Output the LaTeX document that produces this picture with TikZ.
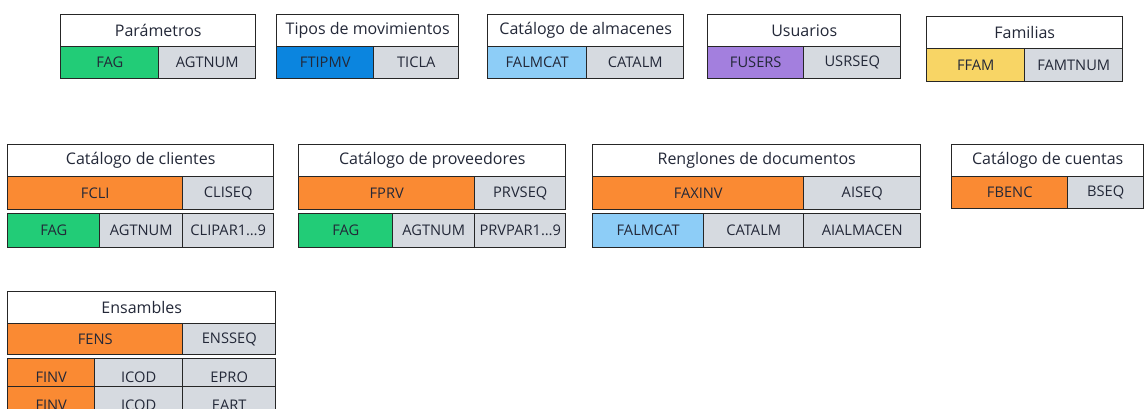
\documentclass[tikz,border=0pt]{standalone}
\usepackage{fontspec}
\setmainfont{Open Sans}

\definecolor{verde}{HTML}{22CC77}
\definecolor{azul}{HTML}{0B85DF}
\definecolor{celeste}{HTML}{8DCDF7}
\definecolor{morado}{HTML}{A37FDE}
\definecolor{amarillo}{HTML}{F8D565}
\definecolor{naranja}{HTML}{FA8A33}
\definecolor{gris}{HTML}{D6DAE0}
\definecolor{linea}{HTML}{262626}
\definecolor{texto}{HTML}{232838}

\begin{document}
\begin{tikzpicture}[
    x=0.75pt, y=-0.75pt,
    caja/.style 2 args={minimum width=#1*0.75pt, minimum height=#2*0.75pt},
    titulo/.style={rectangle, draw=linea, line width=1.1pt, fill=white, inner sep=0pt, anchor=north west, text=texto, font=\fontsize{12}{14}\selectfont},
    campo/.style={rectangle, draw=linea, line width=1.1pt, fill=gris, inner sep=0pt, anchor=north west, text=texto, font=\fontsize{11}{13}\selectfont},
    bajo/.style={text height=14pt, text depth=0pt}
]
\useasboundingbox (0,0) rectangle (1146,408);
\clip (0,0) rectangle (1146,408);

% Parámetros
\node[titulo, caja={195}{32}] (par) at (60,14) {Parámetros};
\node[campo, caja={98}{32}, fill=verde] (parfag) at (60,46) {FAG};
\node[campo, caja={97}{32}] (parnum) at (158,46) {AGTNUM};

% Tipos de movimientos
\node[titulo, caja={182}{32}] (tip) at (276,14) {Tipos de movimientos};
\node[campo, caja={97}{32}, fill=azul] (tipmv) at (276,46) {FTIPMV};
\node[campo, caja={85}{32}] (ticla) at (373,46) {TICLA};

% Catálogo de almacenes
\node[titulo, caja={196}{32}] (alm) at (487,14) {Catálogo de almacenes};
\node[campo, caja={99}{32}, fill=celeste] (almcat) at (487,46) {FALMCAT};
\node[campo, caja={97}{32}] (catalm) at (586,46) {CATALM};

% Usuarios
\node[titulo, caja={193}{32}] (usu) at (707,14) {Usuarios};
\node[campo, caja={96}{32}, fill=morado] (users) at (707,46) {FUSERS};
\node[campo, caja={97}{32}] (usrseq) at (803,46) {USRSEQ};

% Familias
\node[titulo, caja={196}{32}] (fam) at (926,16) {Familias};
\node[campo, caja={98}{33}, fill=amarillo] (ffam) at (926,48) {FFAM};
\node[campo, caja={98}{33}] (famnum) at (1024,48) {FAMTNUM};

% Catálogo de clientes
\node[titulo, caja={266}{32}] (cli) at (7,144) {Catálogo de clientes};
\node[campo, caja={175}{33}, fill=naranja] (fcli) at (7,176) {FCLI};
\node[campo, caja={91}{33}] (cliseq) at (182,176) {CLISEQ};
\node[campo, caja={92}{34}, fill=verde] (clifag) at (7,213) {FAG};
\node[campo, caja={83}{34}] (clinum) at (99,213) {AGTNUM};
\node[campo, caja={91}{34}] (clipar) at (182,213) {CLIPAR1…9};

% Catálogo de proveedores
\node[titulo, caja={267}{32}] (prv) at (298,144) {Catálogo de proveedores};
\node[campo, caja={176}{33}, fill=naranja] (fprv) at (298,176) {FPRV};
\node[campo, caja={91}{33}] (prvseq) at (474,176) {PRVSEQ};
\node[campo, caja={94}{34}, fill=verde] (prvfag) at (298,213) {FAG};
\node[campo, caja={82}{34}] (prvnum) at (392,213) {AGTNUM};
\node[campo, caja={91}{34}] (prvpar) at (474,213) {PRVPAR1…9};

% Renglones de documentos
\node[titulo, caja={328}{32}] (ren) at (592,144) {Renglones de documentos};
\node[campo, caja={211}{33}, fill=naranja] (faxinv) at (592,176) {FAXINV};
\node[campo, caja={117}{33}] (aiseq) at (803,176) {AISEQ};
\node[campo, caja={111}{34}, fill=celeste] (renalm) at (592,213) {FALMCAT};
\node[campo, caja={100}{34}] (rencat) at (703,213) {CATALM};
\node[campo, caja={117}{34}] (aialm) at (803,213) {AIALMACEN};

% Catálogo de cuentas
\node[titulo, caja={192}{32}] (cue) at (951,144) {Catálogo de cuentas};
\node[campo, caja={116}{32}, fill=naranja] (fbenc) at (951,176) {FBENC};
\node[campo, caja={76}{32}] (bseq) at (1067,176) {BSEQ};

% Ensambles
\node[titulo, caja={268}{32}] (ens) at (7,291) {Ensambles};
\node[campo, caja={175}{31}, fill=naranja] (fens) at (7,323) {FENS};
\node[campo, caja={93}{31}] (ensseq) at (182,323) {ENSSEQ};
\node[campo, bajo, caja={87}{28}, fill=naranja] (finva) at (7,358) {FINV};
\node[campo, bajo, caja={88}{28}] (icoda) at (94,358) {ICOD};
\node[campo, bajo, caja={93}{28}] (epro) at (182,358) {EPRO};
\node[campo, bajo, caja={87}{28}, fill=naranja] (finvb) at (7,386) {FINV};
\node[campo, bajo, caja={88}{28}] (icodb) at (94,386) {ICOD};
\node[campo, bajo, caja={93}{28}] (eart) at (182,386) {EART};

\end{tikzpicture}
\end{document}
